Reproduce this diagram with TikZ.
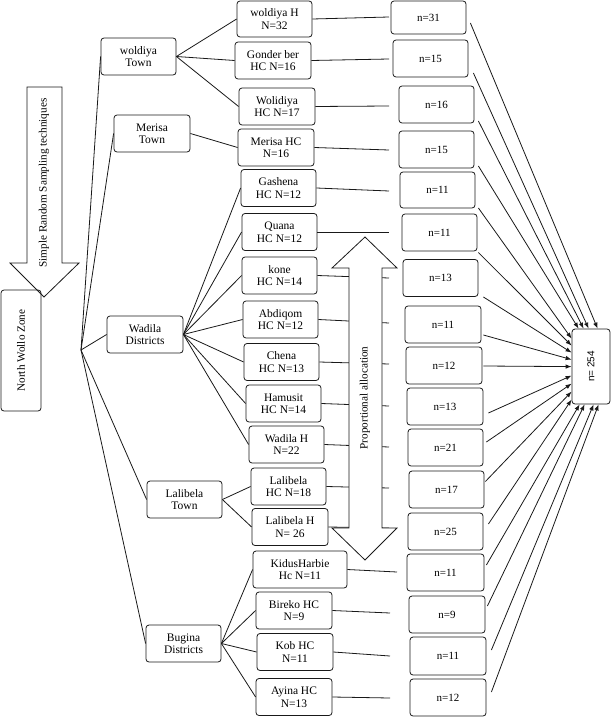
\documentclass[tikz,border=0pt]{standalone}
\usepackage{fontspec}
\setmainfont{Liberation Serif}
\newfontfamily\sansf{Liberation Sans}
\usetikzlibrary{arrows.meta}
\begin{document}
\begin{tikzpicture}[x=1pt,y=-1pt,
 bx/.style={draw=black!90, line width=0.8pt, rounded corners=3pt, minimum width=75pt, minimum height=37pt, inner sep=0pt, align=center, font=\fontsize{11.5}{12.5}\selectfont},
 nb/.style={bx, font=\fontsize{11}{12.5}\selectfont},
 ln/.style={draw=black!90, line width=0.8pt},
 arr/.style={ln, -{Latex[length=6pt,width=4.5pt]}},
 blockshape/.style={draw=black!90, line width=0.8pt, fill=white},
 vtext/.style={rotate=90, font=\fontsize{11.2}{13}\selectfont, inner sep=0pt}
 ]
\useasboundingbox (0,0) rectangle (611,717);

% left block arrow
\draw[blockshape] (27,87) -- (62,87) -- (62,263) -- (79,263) -- (44,297) -- (10,263) -- (27,263) -- cycle;
\node[vtext] (srs) at (44,183) {Simple Random Sampling techniques};
\node[bx, minimum width=40pt, minimum height=121pt] (nwz) at (21,350.5) {};
\node[vtext] (nwzt) at (21,350.5) {North Wollo Zone};
\coordinate (hub) at (81,350);

% districts
\node[bx] (wT) at (138.5,56.5) {woldiya\\Town};
\node[bx, minimum width=76pt] (mT) at (152,133.5) {Merisa\\Town};
\node[bx, minimum width=76pt] (wD) at (145,334.5) {Wadila\\Districts};
\node[bx] (lT) at (184.5,499.5) {Lalibela\\Town};
\node[bx] (bD) at (183.5,643.5) {Bugina\\Districts};

% facilities
\node[bx, minimum height=36pt] (f1) at (274.5,19) {woldiya H\\N=32};
\node[bx, minimum width=76pt] (f2) at (273,60.5) {Gonder ber\\HC N=16};
\node[bx, minimum width=76pt] (f3) at (277,106.5) {Wolidiya\\HC N=17};
\node[bx, minimum width=76pt] (f4) at (276,147.5) {Merisa HC\\N=16};
\node[bx] (f5) at (278.5,188) {Gashena\\HC N=12};
\node[bx] (f6) at (279.5,232) {Quana\\HC N=12};
\node[bx] (f7) at (279.5,275.5) {kone\\HC N=14};
\node[bx] (f8) at (280.5,319.5) {Abdiqom\\HC N=12};
\node[bx] (f9) at (281.5,362) {Chena\\HC N=13};
\node[bx] (f10) at (283.5,403.5) {Hamusit\\HC N=14};
\node[bx] (f11) at (286.5,444.5) {Wadila H\\N=22};
\node[bx] (f12) at (288.5,486.5) {Lalibela\\HC N=18};
\node[bx, minimum width=76pt] (f13) at (290,527) {Lalibela H\\N= 26};
\node[bx, minimum width=94pt] (f14) at (300,569.5) {KidusHarbie\\Hc N=11};
\node[bx, minimum width=76pt] (f15) at (294,610.5) {Bireko HC\\N=9};
\node[bx, minimum width=76pt] (f16) at (295,652) {Kob HC\\N=11};
\node[bx, minimum width=76pt] (f17) at (294,697) {Ayina HC\\N=13};

% sample boxes
\node[nb, minimum height=33pt] (n1) at (428.5,17.5) {n=31};
\node[nb] (n2) at (430.5,58.5) {n=15};
\node[nb] (n3) at (436.5,104.5) {n=16};
\node[nb] (n4) at (436.5,149.5) {n=15};
\node[nb, minimum height=36pt] (n5) at (437.5,190) {n=11};
\node[nb] (n6) at (439.5,232.5) {n=11};
\node[nb] (n7) at (440.5,278) {n=13};
\node[nb, minimum width=76pt] (n8) at (443,324.5) {n=11};
\node[nb, minimum width=76pt] (n9) at (444,365.5) {n=12};
\node[nb, minimum width=76pt] (n10) at (445,406.5) {n=13};
\node[nb] (n11) at (445.5,447.5) {n=21};
\node[nb] (n12) at (446.5,489.5) {n=17};
\node[nb] (n13) at (445.5,531.5) {n=25};
\node[nb, minimum width=77pt] (n14) at (445.5,572.5) {n=11};
\node[nb, minimum width=76pt] (n15) at (447,614.5) {n=9};
\node[nb, minimum width=76pt, minimum height=38pt] (n16) at (448,656) {n=11};
\node[nb, minimum width=76pt] (n17) at (448,697.5) {n=12};

% total
\node[bx, minimum width=38pt, minimum height=75pt] (T) at (591,366.5) {};
\node[rotate=90, font=\sansf\fontsize{10}{12}\selectfont, inner sep=0pt] (Tt) at (591,366.5) {n= 254};

% hub to districts
\foreach \d in {wT,mT,wD,lT,bD} \draw[ln] (hub) -- (\d.west);

% districts to facilities
\foreach \f in {f1,f2,f3} \draw[ln] (wT.east) -- (\f.west);
\draw[ln] (mT.east) -- (f4.west);
\foreach \f in {f5,f6,f7,f8,f9,f10,f11} \draw[ln] (wD.east) -- (\f.west);
\foreach \f in {f12,f13} \draw[ln] (lT.east) -- (\f.west);
\foreach \f in {f14,f15,f16,f17} \draw[ln] (bD.east) -- (\f.west);

% facility lines to allocation
\coordinate (e1) at (389,17);
\coordinate (e2) at (389,59);
\coordinate (e3) at (389,106);
\coordinate (e4) at (389,150);
\coordinate (e5) at (389,191);
\coordinate (e6) at (389,232);
\coordinate (e7) at (389,278);
\coordinate (e8) at (389,323);
\coordinate (e9) at (389,364);
\coordinate (e10) at (389,406);
\coordinate (e11) at (389,447);
\coordinate (e12) at (389,488);
\coordinate (e13) at (389,528);
\coordinate (e14) at (397,572);
\coordinate (e15) at (390,613);
\coordinate (e16) at (390,656);
\coordinate (e17) at (390,698);
\foreach \i in {1,...,17} \draw[ln] (f\i.east) -- (e\i);

% proportional allocation double arrow
\draw[blockshape] (365,237) -- (397,268) -- (382,268) -- (382,528) -- (397,528) -- (365,560) -- (332,528) -- (349,528) -- (349,268) -- (332,268) -- cycle;
\node[vtext] (pa) at (365,398) {Proportional allocation};

% arrows to total
\draw[arr] ([xshift=4pt,yshift=-5.5pt]n1.east) -- ([xshift=26pt]T.north west);
\draw[arr] ([xshift=5pt,yshift=-14.5pt]n2.east) -- ([xshift=17pt]T.north west);
\draw[arr] ([xshift=4pt,yshift=-16.5pt]n3.east) -- ([xshift=12pt]T.north west);
\draw[arr] ([xshift=4pt,yshift=-16.5pt]n4.east) -- ([xshift=7pt]T.north west);
\draw[arr] ([xshift=3pt,yshift=-18pt]n5.east) -- ([yshift=-10pt]T.north west);
\draw[arr] ([xshift=1pt,yshift=-20pt]n6.east) -- ([yshift=-17pt]T.north west);
\draw[arr] ([xshift=5pt,yshift=-19pt]n7.east) -- ([yshift=-24pt]T.north west);
\draw[arr] ([xshift=2pt,yshift=-10.5pt]n8.east) -- ([yshift=-31pt]T.north west);
\draw[arr] ([xshift=1pt,yshift=-0.5pt]n9.east) -- ([yshift=-38pt]T.north west);
\draw[arr] ([xshift=5pt,yshift=-6.5pt]n10.east) -- ([yshift=-47pt]T.north west);
\draw[arr] ([xshift=3pt,yshift=5.5pt]n11.east) -- ([yshift=-55pt]T.north west);
\draw[arr] ([xshift=1pt,yshift=8pt]n12.east) -- ([yshift=-63pt]T.north west);
\draw[arr] ([xshift=5pt,yshift=7.5pt]n13.east) -- ([yshift=-71pt]T.north west);
\draw[arr] ([xshift=2pt,yshift=7.5pt]n14.east) -- ([xshift=8pt]T.south west);
\draw[arr] ([xshift=2pt,yshift=8.5pt]n15.east) -- ([xshift=13pt]T.south west);
\draw[arr] ([xshift=5pt,yshift=6pt]n16.east) -- ([xshift=22pt]T.south west);
\draw[arr] ([xshift=5pt,yshift=5.5pt]n17.east) -- ([xshift=27pt]T.south west);
\end{tikzpicture}
\end{document}
